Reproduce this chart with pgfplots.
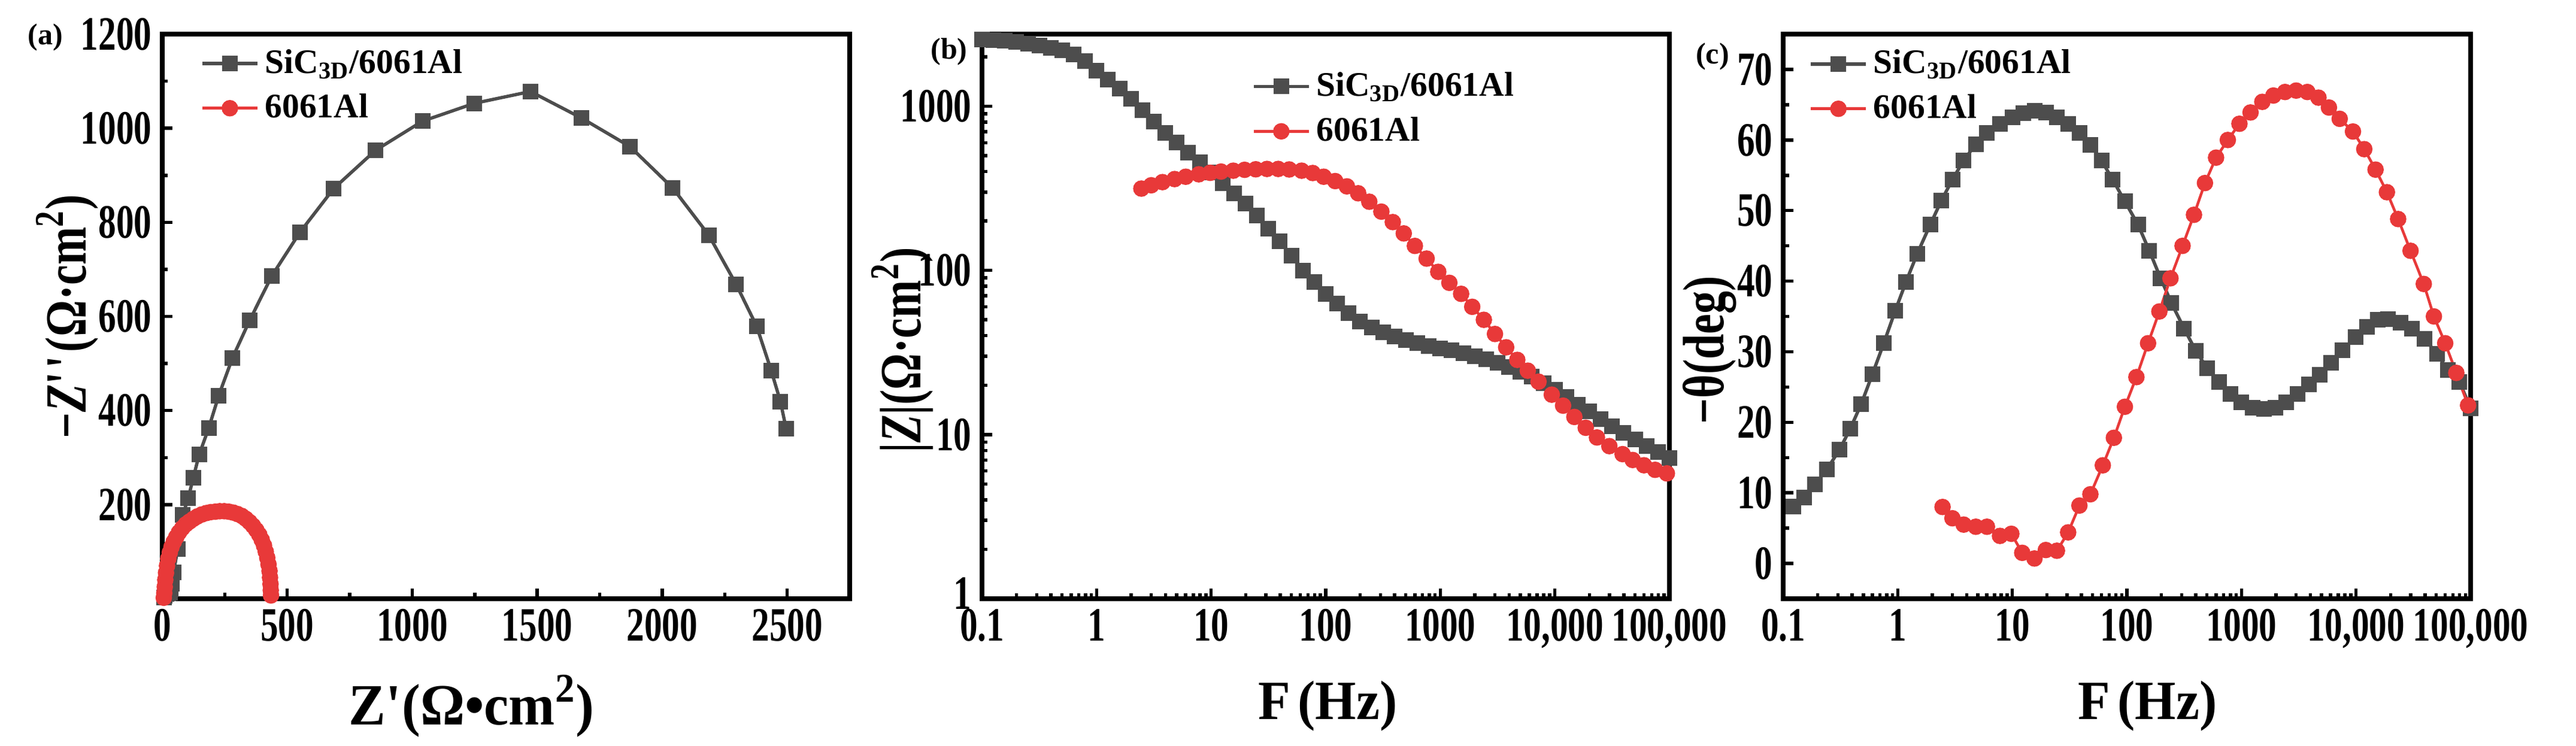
\documentclass[border=0pt]{standalone}
\usepackage{fontspec}
\setmainfont{Liberation Serif}
\newfontfamily\cond{Liberation Serif}[FakeStretch=0.74]
\newfontfamily\ylabf{Liberation Serif}[FakeStretch=0.78]
\newfontfamily\labf{Liberation Serif}[FakeStretch=0.95]
\usepackage{pgfplots}
\pgfplotsset{compat=1.18}
\definecolor{sgrey}{RGB}{77,77,77}
\definecolor{sred}{RGB}{232,57,57}
\pgfplotsset{
  myaxis/.style={
    scale only axis, width=229.6pt, height=188.6pt, anchor=south west,
    axis line style={line width=1.5pt},
    tick align=inside, xtick pos=bottom, ytick pos=left,
    major tick length=3.4pt, minor tick length=1.9pt,
    every tick/.style={black, line width=1.1pt},
    tick label style={font=\cond\bfseries\fontsize{16}{16}\selectfont},
    /pgf/number format/assume math mode=true,
    /pgf/number format/1000 sep={},
    scaled ticks=false,
    xlabel style={font=\labf\bfseries\fontsize{19.5}{20}\selectfont},
    ylabel style={font=\ylabf\bfseries\fontsize{19.5}{20}\selectfont},
    legend style={draw=none, fill=none, font=\bfseries\fontsize{11.5}{12}\selectfont,
      inner sep=0pt, row sep=1.5pt, cells={anchor=west}, anchor=north west},
    legend image code/.code={\draw[mark repeat=2,mark phase=2] plot coordinates {(0pt,0pt) (9.2pt,0pt) (18.4pt,0pt)};},
  },
  gser/.style={color=sgrey, line width=1.1pt, mark=square*, mark size=2.05pt, mark options={solid}},
  rser/.style={color=sred, line width=0.9pt, mark=*, mark size=2.3pt, mark options={solid}},
}
\newcommand{\FHz}{{\fontsize{18.5}{20}\selectfont F\hspace{2.5pt}(Hz)}}
\begin{document}
\begin{tikzpicture}
\useasboundingbox (0,0) rectangle (860.4pt,249.2pt);
% ---------------- (a) Nyquist
\begin{axis}[myaxis, at={(54.2pt,49.2pt)},
  xmin=0, xmax=2750, ymin=0, ymax=1200,
  xtick={0,500,1000,1500,2000,2500}, minor xtick={250,750,1250,1750,2250,2750},
  ytick={200,400,600,800,1000,1200}, minor ytick={100,300,500,700,900,1100},
  xlabel={Z\textquotesingle(Ω•cm\textsuperscript{2})},
  ylabel={−\textit{Z}\textquotesingle\textquotesingle(Ω·cm\textsuperscript{2})},
  xlabel style={at={(axis description cs:0.45,-0.19)}, anchor=center},
  ylabel style={at={(axis description cs:-0.138,0.5)}, anchor=center},
  legend style={at={(axis description cs:0.055,0.985)}},
]
\addplot[gser] coordinates {
(6.7,2.7) (9.6,6.3) (16,10) (25,11) (31,13) (34,20) (37.5,31.5) (45,56) (62,106)
(82,178) (104,214) (124,257) (148,307) (186,363) (226,432) (281,512) (350,592)
(438,686) (551,779) (686,872) (853,953) (1041,1015) (1249,1053) (1473,1078)
(1676,1022) (1871,961) (2042,873) (2186,773) (2296,668) (2378,579) (2436,485)
(2473,419) (2496,361)};
\addlegendentry{SiC\textsubscript{3D}/6061Al}
\addplot[rser] coordinates {
(6,2) (8,12) (10,25) (12,40) (15,55) (19,70) (24,85) (30,98) (37,110) (46,121)
(56,131) (67,141) (80,150) (94,158) (109,164) (125,170) (141,175) (158,179)
(176,182) (194,184) (212,185) (230,186) (248,186) (266,185) (284,183) (301,180)
(318,176) (334,170) (349,163) (363,155) (376,146) (388,136) (398,125) (407,113)
(414,100) (420,87) (425,73) (429,59) (431,45) (433,31) (434,18) (435,7)};
\addlegendentry{6061Al}
\end{axis}
% ---------------- (b) Bode |Z|
\begin{axis}[myaxis, at={(328pt,49.2pt)},
  xmode=log, ymode=log, log basis x=10, log basis y=10,
  xmin=0.1, xmax=100000, ymin=1, ymax=2750,
  xtick={0.1,1,10,100,1000,10000,100000},
  xticklabels={0.1,1,10,100,1000,{10,000},{100,000}},
  minor xtick={0.2,0.3,0.4,0.5,0.6,0.7,0.8,0.9,2,3,4,5,6,7,8,9,20,30,40,50,60,70,80,90,
    200,300,400,500,600,700,800,900,2000,3000,4000,5000,6000,7000,8000,9000,
    20000,30000,40000,50000,60000,70000,80000,90000},
  ytick={1,10,100,1000}, yticklabels={\raisebox{3.5pt}{1},10,100,1000},
  minor ytick={2,3,4,5,6,7,8,9,20,30,40,50,60,70,80,90,200,300,400,500,600,700,800,900,2000},
  xlabel={\FHz},
  ylabel={|\textit{Z}|(Ω·cm\textsuperscript{2})},
  xlabel style={at={(axis description cs:0.503,-0.19)}, anchor=center},
  ylabel style={at={(axis description cs:-0.116,0.44)}, anchor=center},
  legend style={at={(axis description cs:0.392,0.944)}},
]
\addplot[gser] coordinates {
(0.1,2550) (0.1259,2530) (0.1585,2500) (0.1995,2460) (0.2512,2400) (0.3162,2340)
(0.3981,2270) (0.5012,2190) (0.631,2060) (0.7943,1880) (1,1650) (1.259,1450)
(1.585,1280) (1.995,1110) (2.512,950) (3.162,810) (3.981,690) (5.012,600)
(6.31,520) (7.943,455) (10,395) (12.59,340) (15.85,295) (19.95,255) (25.12,215)
(31.62,180) (39.81,150) (50.12,123) (63.1,100) (79.43,85) (100,72) (125.9,63)
(158.5,55) (199.5,49) (251.2,45) (316.2,42) (398.1,39.5) (501.2,37.5) (631,36)
(794.3,34.5) (1000,33.5) (1259,32.5) (1585,31.2) (1995,30) (2512,28.8) (3162,27.3)
(3981,25.8) (5012,24.2) (6310,22.5) (7943,20.6) (10000,18.8) (12590,17)
(15850,15.2) (19950,13.8) (25120,12.4) (31620,11.2) (39810,10.2) (50120,9.3)
(63100,8.5) (79430,7.8) (100000,7.2)};
\addlegendentry{SiC\textsubscript{3D}/6061Al}
\addplot[rser] coordinates {
(2.46,315) (3.0,330) (3.76,345) (4.8,360) (6.0,372) (7.8,385) (9.8,393) (12.2,400)
(15.6,405) (19.6,410) (24.5,413) (30.7,415) (38.5,415) (48,412) (61.6,405) (77,392)
(96,372) (121,350) (153,325) (192,295) (240,262) (306,228) (385,197) (480,168)
(600,141) (760,118) (960,98) (1200,84) (1520,72) (1900,60) (2400,50) (3000,41)
(3760,34) (4700,28.5) (5800,24.5) (7200,21) (9400,17.5) (11800,15) (14800,12.8)
(18600,11) (23300,9.6) (29900,8.5) (39000,7.6) (47800,7.0) (60000,6.5) (75000,6.1)
(95000,5.8)};
\addlegendentry{6061Al}
\end{axis}
% ---------------- (c) Bode phase
\begin{axis}[myaxis, at={(595.6pt,49.2pt)},
  xmode=log, log basis x=10,
  xmin=0.1, xmax=100000, ymin=-5, ymax=75,
  xtick={0.1,1,10,100,1000,10000,100000},
  xticklabels={0.1,1,10,100,1000,{10,000},{100,000}},
  minor xtick={0.2,0.3,0.4,0.5,0.6,0.7,0.8,0.9,2,3,4,5,6,7,8,9,20,30,40,50,60,70,80,90,
    200,300,400,500,600,700,800,900,2000,3000,4000,5000,6000,7000,8000,9000,
    20000,30000,40000,50000,60000,70000,80000,90000},
  ytick={0,10,20,30,40,50,60,70}, minor ytick={-5,5,15,25,35,45,55,65,75},
  xlabel={\FHz},
  ylabel={−θ(deg)},
  xlabel style={at={(axis description cs:0.53,-0.19)}, anchor=center},
  ylabel style={at={(axis description cs:-0.107,0.44)}, anchor=center},
  legend style={at={(axis description cs:0.037,0.984)}},
]
\addplot[gser] coordinates {
(0.122,8.1) (0.153,9.3) (0.19,11.2) (0.24,13.3) (0.31,16.1) (0.385,19.1) (0.48,22.6)
(0.60,26.8) (0.755,31.2) (0.95,35.8) (1.18,39.9) (1.48,43.9) (1.92,48.0) (2.4,51.4)
(3.0,54.4) (3.76,57.1) (4.8,59.4) (6.0,61.0) (7.8,62.3) (10,63.2) (12.5,63.8)
(15.7,64.1) (19.6,63.9) (24.5,63.2) (30.7,62.3) (38.5,61.0) (48,59.3) (60,57.1)
(75,54.4) (96,51.3) (125,48.0) (157,44.3) (197,40.4) (245,36.9) (315,33.3) (400,30.1)
(500,27.7) (640,25.7) (800,24.0) (1000,22.8) (1250,22.1) (1570,21.9) (1970,22.1)
(2470,22.8) (3100,24.0) (3860,25.4) (4840,26.7) (6070,28.4) (7600,30.2) (9900,32.1)
(12400,33.5) (15500,34.5) (19000,34.6) (24600,34.1) (30900,33.3) (39800,31.8)
(50900,29.7) (63000,27.4) (80000,25.7) (100000,22.0)};
\addlegendentry{SiC\textsubscript{3D}/6061Al}
\addplot[rser] coordinates {
(2.46,8.0) (3.0,6.4) (3.76,5.5) (4.8,5.2) (6.0,5.2) (7.8,3.9) (9.8,4.2) (12.2,1.5)
(15.6,0.7) (19.6,1.9) (24.5,1.8) (30.7,4.4) (38.5,8.2) (48,9.8) (61.6,13.9) (77,17.8)
(96,22.2) (121,26.4) (153,31.2) (192,35.7) (240,40.4) (306,45.0) (385,49.4)
(480,53.9) (600,57.5) (760,60.0) (960,62.3) (1200,63.9) (1520,65.4) (1900,66.3)
(2400,66.8) (3000,67.0) (3760,66.8) (4700,66.0) (5800,64.6) (7200,63.0) (9400,61.2)
(11800,58.7) (14800,55.8) (18600,52.6) (23300,48.8) (29900,44.3) (39000,39.6)
(47800,35.0) (60000,31.2) (75000,27.0) (95000,22.4)};
\addlegendentry{6061Al}
\end{axis}
% panel letters
\node[font=\bfseries\fontsize{10}{10}\selectfont] at (15.2pt,236.8pt) {(a)};
\node[font=\bfseries\fontsize{10}{10}\selectfont] at (317pt,232pt) {(b)};
\node[font=\bfseries\fontsize{10}{10}\selectfont] at (572pt,230.4pt) {(c)};
\end{tikzpicture}
\end{document}
